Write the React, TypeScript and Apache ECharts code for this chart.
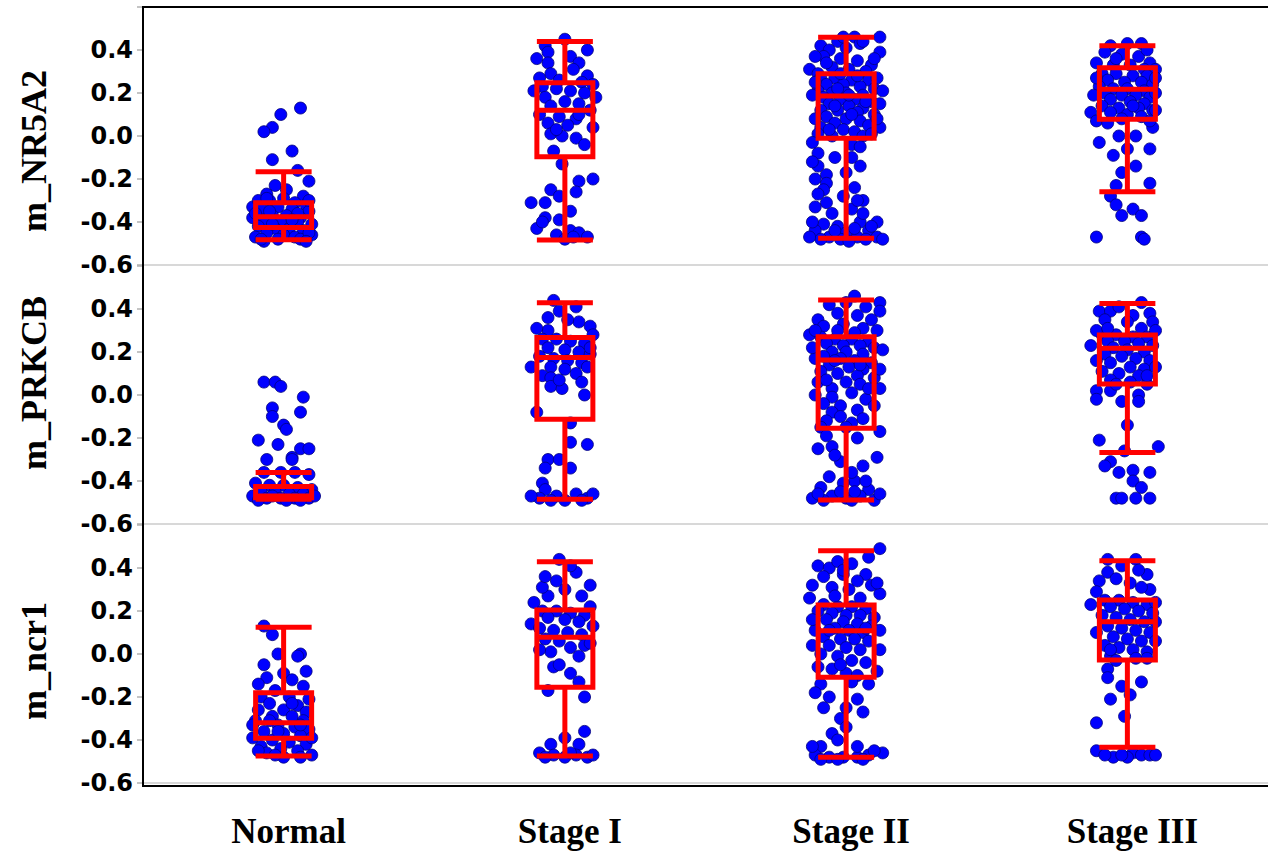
import React, { useEffect, useRef } from "react";
import * as echarts from "echarts";

const categories = ["Normal", "Stage I", "Stage II", "Stage III"];
const panelNames = ["m_NR5A2", "m_PRKCB", "m_ncr1"];
const yTicks = [-0.6, -0.4, -0.2, 0.0, 0.2, 0.4];

// box stats: [lower whisker, Q1, median, Q3, upper whisker]
const boxNR5A2 = [
  [-0.482, -0.426, -0.375, -0.31, -0.166],
  [-0.484, -0.096, 0.12, 0.248, 0.44],
  [-0.476, -0.011, 0.186, 0.29, 0.459],
  [-0.259, 0.078, 0.217, 0.318, 0.42],
];
const boxPRKCB = [
  [-0.485, -0.478, -0.47, -0.426, -0.361],
  [-0.485, -0.113, 0.175, 0.268, 0.429],
  [-0.488, -0.155, 0.163, 0.271, 0.442],
  [-0.268, 0.051, 0.217, 0.279, 0.426],
];
const boxNcr1 = [
  [-0.474, -0.392, -0.32, -0.18, 0.124],
  [-0.474, -0.155, 0.078, 0.205, 0.429],
  [-0.48, -0.108, 0.108, 0.228, 0.48],
  [-0.434, -0.028, 0.15, 0.251, 0.434],
];

// points: [jitter (category units), value]
const nr5a2Normal = [[0.06,0.13],[-0.01,0.10],[-0.04,0.04],[-0.07,0.02],[0.03,-0.07],[-0.04,-0.11],[0.05,-0.16],[0.09,-0.21],[-0.03,-0.23],[0.01,-0.25],[-0.06,-0.27],[0.07,-0.28],[-0.11,-0.33],[-0.11,-0.38],[0.10,-0.46],[-0.07,-0.49],[-0.09,-0.30],[-0.05,-0.30],[0.00,-0.29],[0.04,-0.31],[0.08,-0.32],[-0.08,-0.34],[-0.02,-0.33],[0.03,-0.34],[0.09,-0.35],[-0.10,-0.36],[-0.04,-0.37],[0.01,-0.37],[0.06,-0.38],[-0.07,-0.39],[-0.01,-0.40],[0.05,-0.40],[0.10,-0.41],[-0.09,-0.42],[-0.03,-0.43],[0.02,-0.43],[0.07,-0.44],[-0.06,-0.45],[0.00,-0.46],[0.04,-0.47],[-0.10,-0.47],[-0.02,-0.48],[0.06,-0.48],[0.09,-0.45],[-0.05,-0.35],[0.05,-0.36],[-0.06,-0.29],[0.09,-0.30],[-0.08,-0.48],[0.08,-0.49],[-0.04,-0.41],[0.03,-0.39]];
const nr5a2Stage1 = [[0.00,0.45],[-0.07,0.42],[-0.06,0.39],[0.02,0.37],[0.05,0.34],[-0.06,0.34],[-0.05,0.29],[0.08,0.28],[-0.09,0.27],[0.03,0.31],[-0.02,0.26],[0.06,0.25],[-0.08,0.23],[-0.03,0.22],[0.02,0.21],[0.07,0.20],[0.11,0.18],[-0.07,0.18],[0.00,0.16],[0.05,0.15],[-0.05,0.14],[0.09,0.12],[-0.09,0.10],[-0.02,0.09],[0.04,0.08],[0.10,0.04],[-0.06,0.06],[0.01,0.05],[-0.05,0.01],[-0.01,0.00],[0.04,-0.01],[-0.04,-0.07],[0.07,-0.04],[-0.01,-0.13],[0.05,-0.21],[0.10,-0.20],[-0.05,-0.25],[0.04,-0.26],[-0.02,-0.28],[-0.12,-0.31],[-0.07,-0.31],[-0.07,-0.38],[-0.02,-0.39],[-0.10,-0.43],[0.02,-0.44],[0.05,-0.45],[-0.03,-0.46],[0.00,-0.48],[0.03,-0.47],[-0.08,-0.40],[-0.10,0.36],[0.08,0.40],[-0.11,0.21],[0.10,0.24],[0.05,0.10],[-0.03,0.03],[0.02,-0.35],[0.08,-0.47]];
const nr5a2Stage2 = [[0.03,0.46],[0.12,0.46],[-0.09,0.42],[-0.03,0.44],[0.05,0.43],[0.12,0.39],[-0.06,0.40],[0.00,0.41],[-0.13,0.31],[-0.10,0.29],[-0.08,0.37],[-0.02,0.36],[0.04,0.35],[0.09,0.33],[-0.05,0.32],[0.01,0.31],[0.07,0.30],[-0.09,0.27],[-0.04,0.27],[0.02,0.26],[0.08,0.26],[-0.07,0.24],[-0.01,0.24],[0.05,0.23],[0.10,0.22],[0.13,0.21],[-0.10,0.21],[-0.05,0.20],[0.00,0.20],[0.06,0.19],[-0.08,0.18],[-0.02,0.17],[0.03,0.17],[0.09,0.16],[-0.06,0.15],[0.01,0.14],[0.06,0.13],[-0.09,0.12],[-0.03,0.12],[0.04,0.11],[0.10,0.10],[-0.07,0.09],[0.00,0.08],[0.05,0.07],[-0.04,0.06],[0.08,0.05],[0.12,0.04],[-0.09,0.04],[-0.01,0.03],[0.03,0.02],[-0.10,0.01],[-0.05,0.00],[0.06,0.00],[-0.10,-0.08],[0.02,-0.04],[-0.04,-0.10],[-0.10,-0.14],[0.05,-0.14],[-0.07,-0.18],[0.00,-0.17],[-0.07,-0.22],[-0.08,-0.25],[0.03,-0.24],[-0.01,-0.28],[0.06,-0.30],[-0.07,-0.31],[0.02,-0.34],[-0.05,-0.36],[-0.08,-0.41],[0.05,-0.40],[0.11,-0.40],[-0.03,-0.42],[-0.11,-0.44],[0.08,-0.44],[0.00,-0.45],[-0.06,-0.47],[0.04,-0.47],[0.11,-0.47],[-0.09,-0.48],[-0.02,-0.48],[0.07,-0.48],[0.01,-0.49],[-0.11,0.25],[0.11,0.27],[-0.12,0.19],[0.12,0.15],[-0.11,0.08],[0.11,0.08],[-0.06,0.03],[0.09,0.01],[-0.02,0.29],[0.04,0.28],[-0.07,0.34],[0.10,0.36],[-0.11,0.37],[0.06,0.44],[-0.01,0.46],[0.02,0.10],[-0.04,0.14],[0.07,0.16],[-0.03,0.22],[0.01,0.19],[-0.12,-0.03],[-0.12,-0.12],[-0.11,-0.20],[-0.10,-0.27],[-0.11,-0.33],[-0.12,-0.40],[0.02,-0.10],[0.04,-0.30],[0.06,-0.36],[0.09,-0.42],[-0.04,-0.44],[0.03,-0.43],[-0.13,-0.47],[0.13,-0.48],[0.05,-0.05]];
const nr5a2Stage3 = [[0.00,0.43],[0.05,0.43],[-0.06,0.42],[-0.11,0.34],[0.08,0.34],[0.10,0.31],[-0.08,0.39],[-0.02,0.38],[0.04,0.37],[-0.05,0.33],[0.01,0.33],[0.06,0.31],[-0.09,0.29],[-0.04,0.29],[0.02,0.28],[0.07,0.28],[-0.07,0.26],[-0.01,0.25],[0.05,0.25],[0.09,0.24],[-0.10,0.23],[-0.05,0.22],[0.00,0.22],[0.06,0.21],[-0.08,0.20],[-0.02,0.19],[0.03,0.19],[0.08,0.18],[-0.06,0.17],[0.01,0.16],[0.06,0.15],[-0.09,0.14],[-0.03,0.13],[0.04,0.13],[0.09,0.12],[-0.06,0.11],[0.00,0.10],[0.05,0.09],[-0.02,0.08],[-0.13,0.11],[0.10,0.12],[0.09,0.04],[-0.03,0.00],[0.03,0.00],[-0.10,-0.03],[0.00,-0.06],[0.08,-0.06],[-0.05,-0.09],[0.03,-0.14],[-0.02,-0.17],[-0.04,-0.23],[0.08,-0.22],[-0.06,-0.28],[-0.04,-0.32],[0.02,-0.34],[-0.02,-0.37],[0.05,-0.37],[-0.11,-0.47],[0.05,-0.47],[0.06,-0.48],[-0.11,0.27],[0.10,0.27],[-0.12,0.19],[0.10,0.20],[-0.11,0.07],[0.08,0.07],[-0.04,0.36],[0.07,0.40],[0.02,0.14],[-0.07,0.06]];

const prkcbNormal = [[-0.07,0.06],[-0.03,0.06],[-0.01,0.04],[0.07,-0.01],[-0.04,-0.06],[-0.04,-0.10],[0.06,-0.08],[0.00,-0.14],[0.01,-0.16],[-0.09,-0.21],[-0.02,-0.23],[0.06,-0.25],[0.09,-0.25],[0.03,-0.29],[0.03,-0.30],[-0.06,-0.30],[-0.07,-0.36],[-0.01,-0.36],[0.04,-0.36],[0.09,-0.37],[-0.10,-0.41],[-0.05,-0.42],[0.00,-0.42],[0.05,-0.43],[0.10,-0.44],[-0.08,-0.45],[-0.03,-0.45],[0.02,-0.46],[0.07,-0.46],[-0.11,-0.47],[-0.06,-0.48],[-0.01,-0.48],[0.04,-0.48],[0.09,-0.48],[-0.09,-0.49],[0.01,-0.49],[0.06,-0.49],[-0.04,-0.47],[0.11,-0.47]];
const prkcbStage1 = [[-0.04,0.44],[0.04,0.41],[-0.06,0.36],[0.05,0.34],[0.09,0.32],[0.10,0.28],[-0.06,0.30],[-0.02,0.39],[0.01,0.35],[-0.08,0.26],[-0.03,0.26],[0.02,0.25],[0.07,0.24],[-0.06,0.22],[0.00,0.21],[0.05,0.20],[0.09,0.19],[-0.09,0.18],[-0.04,0.17],[0.01,0.16],[-0.12,0.13],[0.06,0.15],[-0.05,0.13],[0.00,0.12],[0.04,0.10],[-0.08,0.09],[-0.05,0.08],[0.06,0.06],[-0.05,0.04],[-0.01,0.03],[0.07,0.00],[-0.10,-0.08],[0.02,-0.13],[0.02,-0.22],[0.08,-0.23],[-0.06,-0.30],[-0.02,-0.30],[0.02,-0.34],[-0.07,-0.34],[-0.08,-0.41],[-0.07,-0.44],[-0.03,-0.47],[0.04,-0.46],[0.08,-0.48],[-0.05,-0.49],[0.00,-0.49],[0.06,-0.49],[-0.09,-0.48],[-0.10,0.31],[0.09,0.22],[0.08,0.13],[-0.02,0.07],[0.10,-0.46],[-0.12,-0.47]];
const prkcbStage2 = [[0.03,0.46],[0.12,0.43],[0.12,0.39],[-0.10,0.35],[-0.13,0.28],[-0.06,0.42],[0.00,0.43],[0.07,0.41],[-0.03,0.38],[0.04,0.37],[0.09,0.35],[-0.08,0.32],[-0.01,0.33],[0.06,0.31],[-0.09,0.27],[-0.04,0.26],[0.02,0.26],[0.08,0.25],[-0.07,0.24],[-0.01,0.23],[0.05,0.23],[0.10,0.22],[0.13,0.21],[-0.11,0.17],[-0.05,0.20],[0.00,0.20],[0.06,0.19],[-0.08,0.18],[-0.02,0.17],[0.03,0.16],[0.09,0.15],[-0.06,0.14],[0.01,0.13],[0.06,0.12],[-0.09,0.11],[-0.03,0.10],[0.04,0.09],[0.10,0.08],[-0.10,0.06],[0.00,0.06],[0.05,0.05],[0.12,0.03],[-0.05,0.03],[0.02,0.01],[-0.05,-0.01],[0.07,-0.02],[-0.02,-0.05],[-0.05,-0.08],[0.04,-0.07],[-0.02,-0.10],[-0.07,-0.12],[0.02,-0.13],[-0.09,-0.15],[-0.07,-0.19],[0.04,-0.20],[0.12,-0.17],[-0.05,-0.24],[0.11,-0.29],[-0.02,-0.31],[0.06,-0.33],[0.03,-0.40],[-0.01,-0.41],[-0.09,-0.43],[0.08,-0.44],[-0.12,-0.48],[-0.05,-0.47],[0.00,-0.48],[0.05,-0.47],[0.10,-0.49],[-0.08,-0.49],[0.02,-0.49],[-0.11,0.30],[0.11,0.30],[-0.12,0.22],[0.12,0.12],[-0.11,0.00],[0.10,-0.05],[-0.03,0.30],[0.03,0.29],[-0.07,0.07],[0.08,0.03],[-0.04,0.16],[0.05,0.14],[-0.08,-0.04],[0.00,-0.15],[0.06,-0.11],[-0.10,-0.25],[-0.04,-0.28],[0.02,-0.36],[-0.06,-0.38],[0.07,-0.40],[-0.10,-0.46],[0.12,-0.46],[-0.02,-0.45],[0.03,-0.45]];
const prkcbStage3 = [[0.05,0.43],[-0.10,0.39],[-0.06,0.39],[0.08,0.38],[0.09,0.34],[-0.13,0.23],[-0.03,0.41],[0.02,0.37],[-0.08,0.35],[0.00,0.34],[0.05,0.31],[-0.09,0.28],[-0.04,0.28],[0.02,0.27],[0.07,0.27],[-0.07,0.25],[-0.01,0.25],[0.04,0.24],[0.09,0.23],[-0.05,0.22],[0.00,0.21],[0.06,0.20],[-0.08,0.19],[-0.02,0.18],[0.03,0.17],[0.08,0.16],[-0.06,0.15],[0.01,0.13],[0.06,0.12],[-0.09,0.11],[-0.03,0.10],[0.04,0.09],[-0.06,0.07],[0.01,0.06],[0.07,0.05],[-0.11,0.02],[-0.11,-0.02],[-0.06,0.02],[-0.02,-0.03],[0.04,0.00],[0.04,-0.03],[0.00,-0.14],[-0.10,-0.21],[0.11,-0.24],[-0.01,-0.26],[-0.06,-0.31],[-0.08,-0.33],[-0.03,-0.36],[0.02,-0.35],[0.08,-0.36],[0.02,-0.40],[0.05,-0.43],[-0.04,-0.48],[-0.02,-0.48],[0.03,-0.48],[0.08,-0.48],[-0.11,0.30],[0.10,0.30],[-0.11,0.16],[0.10,0.13],[-0.04,0.05],[0.07,0.09],[-0.07,0.31]];

const ncr1Normal = [[-0.07,0.13],[-0.04,0.09],[-0.02,0.00],[0.06,0.00],[0.05,-0.01],[-0.07,-0.05],[0.08,-0.08],[-0.06,-0.11],[0.00,-0.09],[0.03,-0.12],[-0.09,-0.14],[0.07,-0.15],[-0.03,-0.17],[-0.08,-0.20],[0.02,-0.20],[0.09,-0.21],[-0.05,-0.23],[0.05,-0.24],[-0.09,-0.26],[0.00,-0.26],[0.08,-0.27],[-0.04,-0.29],[0.03,-0.29],[-0.10,-0.31],[0.07,-0.31],[-0.11,-0.33],[-0.02,-0.33],[0.04,-0.34],[0.09,-0.35],[-0.07,-0.36],[0.00,-0.37],[0.06,-0.38],[-0.11,-0.39],[-0.04,-0.40],[0.02,-0.41],[0.08,-0.42],[-0.08,-0.43],[-0.01,-0.44],[0.05,-0.45],[0.10,-0.47],[-0.06,-0.46],[0.00,-0.48],[-0.03,-0.47],[0.06,-0.48],[-0.05,-0.31],[0.06,-0.33],[-0.09,-0.45],[0.03,-0.23],[-0.02,-0.36],[0.10,-0.39]];
const ncr1Stage1 = [[-0.02,0.44],[0.04,0.38],[-0.03,0.34],[0.09,0.32],[-0.06,0.27],[0.06,0.27],[0.02,0.41],[-0.08,0.31],[0.00,0.30],[-0.08,0.20],[-0.03,0.20],[0.02,0.19],[0.07,0.18],[-0.06,0.17],[0.00,0.16],[0.05,0.15],[-0.12,0.14],[0.10,0.13],[-0.09,0.12],[-0.04,0.11],[0.01,0.10],[0.06,0.09],[-0.07,0.07],[-0.02,0.06],[0.02,0.03],[0.07,0.04],[-0.05,0.01],[0.05,-0.01],[-0.04,-0.06],[-0.02,-0.05],[0.02,-0.09],[0.05,-0.13],[-0.06,-0.17],[0.07,-0.20],[0.07,-0.36],[0.00,-0.39],[0.05,-0.42],[-0.05,-0.42],[-0.09,-0.46],[-0.04,-0.47],[0.00,-0.48],[0.04,-0.47],[0.08,-0.48],[-0.07,-0.48],[0.02,-0.46],[-0.11,0.24],[0.09,0.22],[0.09,0.05],[-0.09,0.02],[-0.07,0.36],[0.10,-0.47]];
const ncr1Stage2 = [[0.12,0.49],[0.08,0.45],[-0.10,0.41],[-0.06,0.40],[0.07,0.37],[-0.13,0.26],[0.12,0.28],[-0.03,0.43],[0.02,0.42],[-0.08,0.36],[-0.01,0.37],[0.04,0.34],[0.09,0.32],[-0.05,0.31],[0.01,0.30],[-0.08,0.23],[-0.03,0.22],[0.02,0.22],[0.07,0.21],[-0.10,0.20],[-0.05,0.19],[0.00,0.18],[0.05,0.18],[0.10,0.17],[-0.07,0.16],[-0.01,0.15],[0.04,0.14],[0.09,0.13],[-0.11,0.11],[-0.04,0.12],[0.01,0.11],[0.06,0.10],[-0.08,0.08],[-0.02,0.07],[0.03,0.07],[0.08,0.06],[-0.06,0.04],[0.00,0.03],[0.05,0.02],[0.12,0.02],[-0.09,0.00],[-0.03,-0.01],[0.02,-0.03],[0.07,-0.04],[-0.10,-0.06],[-0.05,-0.07],[0.00,-0.09],[0.04,-0.10],[-0.09,-0.14],[0.08,-0.14],[-0.06,-0.20],[0.04,-0.21],[0.00,-0.25],[-0.02,-0.30],[0.00,-0.34],[-0.05,-0.37],[-0.09,-0.43],[0.13,-0.46],[-0.11,-0.47],[-0.06,-0.48],[-0.01,-0.48],[0.04,-0.48],[0.08,-0.47],[-0.03,-0.49],[0.06,-0.49],[-0.09,-0.49],[-0.12,0.32],[0.11,0.33],[-0.12,0.16],[0.12,0.11],[-0.12,0.04],[0.11,-0.08],[-0.04,0.27],[0.05,0.26],[-0.06,0.11],[0.07,0.12],[-0.02,-0.05],[0.02,-0.13],[-0.11,-0.18],[-0.08,-0.25],[0.06,-0.27],[-0.03,-0.40],[0.04,-0.43],[-0.12,-0.43],[0.10,-0.45],[-0.01,0.39]];
const ncr1Stage3 = [[-0.07,0.44],[0.03,0.44],[-0.07,0.38],[0.07,0.37],[-0.10,0.34],[-0.13,0.23],[0.10,0.15],[-0.02,0.41],[0.04,0.39],[-0.04,0.35],[0.01,0.33],[0.08,0.30],[-0.08,0.25],[-0.03,0.25],[0.02,0.24],[0.07,0.23],[-0.06,0.22],[-0.01,0.21],[0.04,0.20],[0.09,0.19],[-0.09,0.18],[-0.04,0.17],[0.01,0.16],[0.06,0.15],[-0.07,0.13],[-0.02,0.12],[0.03,0.11],[0.08,0.10],[-0.05,0.08],[0.00,0.07],[0.05,0.06],[-0.08,0.04],[-0.03,0.03],[0.02,0.02],[0.07,0.01],[-0.06,-0.01],[0.03,-0.02],[-0.06,0.02],[0.07,-0.02],[-0.07,-0.07],[-0.07,-0.11],[0.05,-0.13],[-0.02,-0.15],[0.01,-0.19],[-0.06,-0.21],[-0.01,-0.29],[-0.11,-0.32],[-0.11,-0.45],[-0.05,-0.48],[0.02,-0.46],[0.05,-0.47],[-0.08,-0.47],[0.08,-0.47],[0.00,-0.48],[-0.11,0.29],[0.10,0.24],[-0.11,0.10],[0.10,0.06],[-0.04,-0.03],[0.05,0.31],[0.10,-0.47],[-0.02,-0.47]];

const panelBoxes = [boxNR5A2, boxPRKCB, boxNcr1];
const panelPoints = [
  [nr5a2Normal, nr5a2Stage1, nr5a2Stage2, nr5a2Stage3],
  [prkcbNormal, prkcbStage1, prkcbStage2, prkcbStage3],
  [ncr1Normal, ncr1Stage1, ncr1Stage2, ncr1Stage3],
];

const W = 1268;
const H = 854;
const LEFT = 143;
const TOPS = [7, 266, 525];
const GH = 258;
const NAME_Y = [151, 383, 661];

export default function App() {
  const ref = useRef<HTMLDivElement>(null);
  useEffect(() => {
    if (!ref.current) return;
    const chart = echarts.init(ref.current, null, { renderer: "svg" });
    const grid: any[] = [];
    const xAxis: any[] = [];
    const yAxis: any[] = [];
    const series: any[] = [];
    for (let p = 0; p < 3; p++) {
      grid.push({ left: LEFT, right: 0, top: TOPS[p], height: GH });
      xAxis.push({
        type: "category",
        gridIndex: p,
        data: categories,
        boundaryGap: true,
        axisLine: { show: true, onZero: false, lineStyle: { color: "#d8d8d8", width: 2 } },
        axisTick: { show: false },
        axisLabel: p === 2
          ? { show: true, margin: 31, color: "#000", fontFamily: "Liberation Serif", fontWeight: "bold", fontSize: 35, padding: [0, 0, 0, 10] }
          : { show: false },
        splitLine: { show: false },
      });
      yAxis.push({
        type: "value",
        gridIndex: p,
        min: -0.6,
        max: 0.6,
        interval: 0.2,
        axisLine: { show: false, onZero: false },
        axisTick: { show: true, length: 6, lineStyle: { color: "#b0b0b0", width: 1.5 } },
        splitLine: { show: false },
        axisLabel: {
          margin: 10,
          color: "#000",
          fontFamily: "DejaVu Sans",
          fontWeight: "bold",
          fontSize: 24,
          formatter: (v: number) => {
            const m = yTicks.find((t) => Math.abs(t - v) < 1e-6);
            return m === undefined ? "" : m.toFixed(1);
          },
        },
      });
    }
    for (let p = 0; p < 3; p++) {
      xAxis.push({ type: "value", gridIndex: p, min: -0.5, max: 3.5, show: false, axisLine: { onZero: false } });
    }
    for (let p = 0; p < 3; p++) {
      const pts: number[][] = [];
      panelPoints[p].forEach((grp, ci) => {
        grp.forEach(([dx, v]) => pts.push([ci + dx, v]));
      });
      series.push({
        type: "scatter",
        xAxisIndex: 3 + p,
        yAxisIndex: p,
        data: pts,
        symbolSize: 12,
        z: 2,
        itemStyle: { color: "#0000ff", borderColor: "#00007a", borderWidth: 0.8, opacity: 1 },
        emphasis: { disabled: true },
      });
      series.push({
        type: "boxplot",
        xAxisIndex: p,
        yAxisIndex: p,
        data: panelBoxes[p],
        boxWidth: [56, 56],
        z: 5,
        itemStyle: { color: "rgba(0,0,0,0)", borderColor: "#ff0000", borderWidth: 5 },
        emphasis: { disabled: true },
      });
    }
    const graphic: any[] = [
      { type: "line", shape: { x1: LEFT, y1: 7, x2: W, y2: 7 }, style: { stroke: "#000", lineWidth: 2 }, z: 10 },
      { type: "line", shape: { x1: LEFT, y1: 6, x2: LEFT, y2: 787 }, style: { stroke: "#000", lineWidth: 2 }, z: 10 },
      { type: "line", shape: { x1: LEFT, y1: 786, x2: W, y2: 786 }, style: { stroke: "#000", lineWidth: 2 }, z: 10 },
    ];
    panelNames.forEach((n, i) => {
      graphic.push({
        type: "text",
        x: 34,
        y: NAME_Y[i],
        rotation: Math.PI / 2,
        style: {
          text: n,
          fill: "#000",
          font: "bold 36px 'Liberation Serif'",
          align: "center",
          verticalAlign: "middle",
        },
      });
    });
    chart.setOption({
      animation: false,
      backgroundColor: "#fff",
      grid,
      xAxis,
      yAxis,
      series,
      graphic,
    });
    return () => chart.dispose();
  }, []);
  return <div ref={ref} style={{ position: "absolute", left: 0, top: 0, width: W, height: H }} />;
}
